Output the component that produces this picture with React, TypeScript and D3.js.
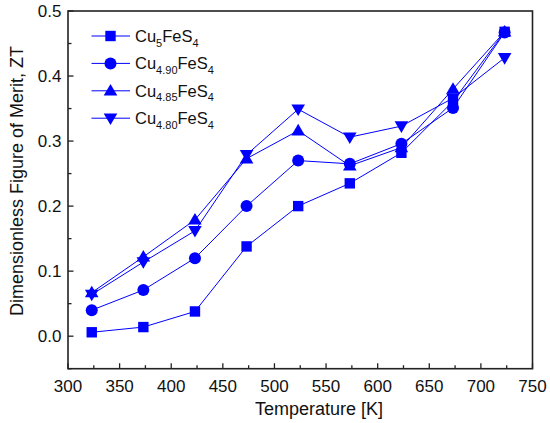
import React from "react";
import * as d3 from "d3";

const temps = [323, 373, 423, 473, 523, 573, 623, 673, 723];
const cu500 = [0.006, 0.014, 0.038, 0.138, 0.2, 0.235, 0.282, 0.361, 0.468];
const cu490 = [0.04, 0.071, 0.12, 0.2, 0.27, 0.265, 0.296, 0.351, 0.467];
const cu485 = [0.067, 0.122, 0.179, 0.273, 0.316, 0.262, 0.29, 0.38, 0.468];
const cu480 = [0.064, 0.114, 0.162, 0.279, 0.349, 0.306, 0.323, 0.366, 0.428];
const seriesSubs = ["5", "4.90", "4.85", "4.80"];
const seriesShapes = ["square", "circle", "up", "down"];
const xTicks = [300, 350, 400, 450, 500, 550, 600, 650, 700, 750];
const yTicks = [0.0, 0.1, 0.2, 0.3, 0.4, 0.5];

const W = 550, H = 423;
const L = 68, R = 532.5, T = 11, B = 368.7;
const BLUE = "#0000ff";

function Marker({ shape, cx, cy }: { shape: string; cx: number; cy: number }) {
  if (shape === "square") return <rect x={cx - 5.2} y={cy - 5.2} width={10.4} height={10.4} fill={BLUE} />;
  if (shape === "circle") return <circle cx={cx} cy={cy} r={6} fill={BLUE} />;
  const s = 6.8;
  if (shape === "up")
    return <path d={`M${cx},${cy - s}L${cx + s},${cy + s * 0.7}L${cx - s},${cy + s * 0.7}Z`} fill={BLUE} />;
  return <path d={`M${cx},${cy + s}L${cx + s},${cy - s * 0.7}L${cx - s},${cy - s * 0.7}Z`} fill={BLUE} />;
}

export default function App() {
  const x = d3.scaleLinear().domain([300, 750]).range([L, R]);
  const y = d3.scaleLinear().domain([-0.05, 0.5]).range([B, T]);
  const all = [cu500, cu490, cu485, cu480];
  const line = d3
    .line<number>()
    .x((_, i) => x(temps[i]))
    .y((d) => y(d));
  const xMinor = d3.range(325, 750, 50);
  const yMinor = d3.range(-0.05, 0.5, 0.1);
  const font = "Arial, 'Liberation Sans', sans-serif";
  const fs = 17;
  const ft = 18;
  return (
    <svg width={W} height={H} style={{ position: "absolute", left: 0, top: 0 }} fontFamily={font}>
      <rect width={W} height={H} fill="#fff" />
      {all.map((vals, k) => (
        <path key={"l" + k} d={line(vals) || ""} fill="none" stroke={BLUE} strokeWidth={1} />
      ))}
      {all.map((vals, k) =>
        vals.map((v, i) => <Marker key={`m${k}-${i}`} shape={seriesShapes[k]} cx={x(temps[i])} cy={y(v)} />)
      )}
      <rect x={L} y={T} width={R - L} height={B - T} fill="none" stroke="#222" strokeWidth={1.6} />
      {xTicks.map((t) => (
        <g key={"xt" + t}>
          <line x1={x(t)} x2={x(t)} y1={B} y2={B - 5.5} stroke="#222" strokeWidth={1.3} />
          <text x={x(t)} y={391.5} textAnchor="middle" fontSize={fs} fill="#111">
            {t}
          </text>
        </g>
      ))}
      {xMinor.map((t) => (
        <line key={"xm" + t} x1={x(t)} x2={x(t)} y1={B} y2={B - 3.5} stroke="#222" strokeWidth={1.3} />
      ))}
      {yTicks.map((t) => (
        <g key={"yt" + t}>
          <line x1={L} x2={L + 5.5} y1={y(t)} y2={y(t)} stroke="#222" strokeWidth={1.3} />
          <text x={L - 6.5} y={y(t) + 6} textAnchor="end" fontSize={fs} fill="#111">
            {t.toFixed(1)}
          </text>
        </g>
      ))}
      {yMinor.map((t) => (
        <line key={"ym" + t} x1={L} x2={L + 3.5} y1={y(t)} y2={y(t)} stroke="#222" strokeWidth={1.3} />
      ))}
      <text x={319} y={415} textAnchor="middle" fontSize={ft} fill="#111">
        Temperature [K]
      </text>
      <text transform={`translate(22.5, 181) rotate(-90)`} textAnchor="middle" fontSize={ft} fill="#111">
        Dimensionless Figure of Merit, ZT
      </text>
      {seriesSubs.map((s, k) => {
        const ly = 36 + k * 27.4;
        return (
          <g key={"lg" + k}>
            <line x1={91.5} x2={130} y1={ly} y2={ly} stroke={BLUE} strokeWidth={1} />
            <Marker shape={seriesShapes[k]} cx={110.5} cy={ly} />
            <text x={135} y={ly + 6} fontSize={16.5} fill="#111">
              Cu
              <tspan fontSize={11} dy={4.5}>{s}</tspan>
              <tspan dy={-4.5}>FeS</tspan>
              <tspan fontSize={11} dy={4.5}>4</tspan>
            </text>
          </g>
        );
      })}
    </svg>
  );
}
